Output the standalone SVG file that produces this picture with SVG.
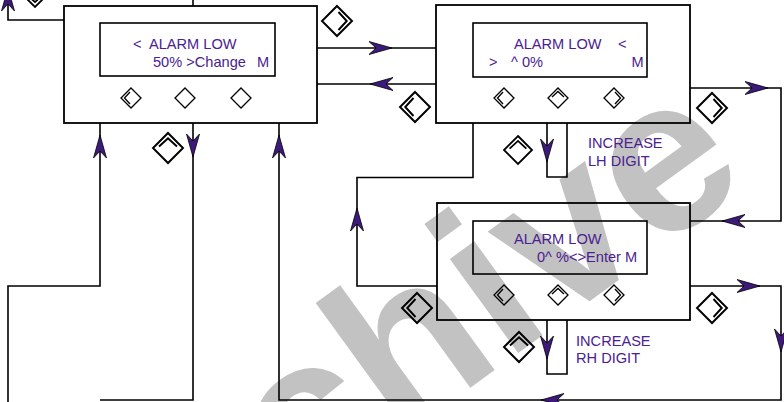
<svg xmlns="http://www.w3.org/2000/svg" xmlns:xlink="http://www.w3.org/1999/xlink" width="784" height="402" viewBox="0 0 784 402">
<style>
.box{fill:none;stroke:#000;stroke-width:1.8}
.lcd{fill:none;stroke:#000;stroke-width:1.6}
.ln{fill:none;stroke:#000;stroke-width:1.6}
.t{font-family:"Liberation Sans",Arial,sans-serif;font-size:14.6px;fill:#4a2190}
.dm{fill:none;stroke:#000;stroke-width:1.3}
.wm{font-family:"Liberation Sans",Arial,sans-serif;font-weight:bold;font-size:220px;fill:#c2c2c2}
</style>
<defs>
<path id="ah" d="M0,0 L-23,-6.5 L-16,0 L-23,6.5 Z" fill="#3d1a7a" stroke="#000" stroke-width="0.8"/>
<path id="d0" class="dm" d="M0,-10 L10,0 L0,10 L-10,0 Z"/>
<g id="dL"><use xlink:href="#d0"/><path class="dm" d="M-1,-6 L-6.5,0 L-1,6"/></g>
<g id="dT"><use xlink:href="#d0"/><path class="dm" d="M-6,-1 L0,-6.5 L6,-1"/></g>
<g id="dR"><use xlink:href="#d0"/><path class="dm" d="M1,-6 L6.5,0 L1,6"/></g>
<g id="dB"><use xlink:href="#d0"/><path class="dm" d="M-6,1 L0,6.5 L6,1"/></g>
</defs>

<text class="wm" transform="translate(298,513) rotate(-36)">chive</text>

<g id="connectors">
<path class="ln" d="M64,20 H8 V0"/>
<path class="ln" d="M193,6 V0"/>
<path class="ln" d="M317,48 H436"/>
<path class="ln" d="M436,84 H317"/>
<path class="ln" d="M100,123 V286 H8 V402"/>
<path class="ln" d="M193,123 V400 H100"/>
<path class="ln" d="M279,123 V400 H781 V286 H690"/>
<path class="ln" d="M690,88 H781 V221 H690"/>
<path class="ln" d="M437,286 H357 V177.5 H473 V123"/>
<path class="ln" d="M547,123 V177 H567 V123"/>
<path class="ln" d="M547,320 V374 H567 V320"/>
<use xlink:href="#ah" transform="translate(8,-12) rotate(-90)"/>
<use xlink:href="#ah" transform="translate(392,48)"/>
<use xlink:href="#ah" transform="translate(370,84) rotate(180)"/>
<use xlink:href="#ah" transform="translate(100,135) rotate(-90)"/>
<use xlink:href="#ah" transform="translate(193,157) rotate(90)"/>
<use xlink:href="#ah" transform="translate(279,135) rotate(-90)"/>
<use xlink:href="#ah" transform="translate(541,400) rotate(180)"/>
<use xlink:href="#ah" transform="translate(781,352) rotate(90)"/>
<use xlink:href="#ah" transform="translate(760,286)"/>
<use xlink:href="#ah" transform="translate(768,88)"/>
<use xlink:href="#ah" transform="translate(722,221) rotate(180)"/>
<use xlink:href="#ah" transform="translate(357,208) rotate(-90)"/>
<use xlink:href="#ah" transform="translate(547,162) rotate(90)"/>
<use xlink:href="#ah" transform="translate(547,359) rotate(90)"/>
</g>

<g id="keys">
<use xlink:href="#dB" transform="translate(35,-7) scale(1.4)"/>
<use xlink:href="#dR" transform="translate(337,21) scale(1.5)"/>
<use xlink:href="#dL" transform="translate(415,107) scale(1.5)"/>
<use xlink:href="#dR" transform="translate(712,108) scale(1.5)"/>
<use xlink:href="#dT" transform="translate(168,148) scale(1.5)"/>
<use xlink:href="#dT" transform="translate(518,150) scale(1.4)"/>
<use xlink:href="#dL" transform="translate(417,308) scale(1.5)"/>
<use xlink:href="#dR" transform="translate(712,308) scale(1.5)"/>
<use xlink:href="#dT" transform="translate(519,347) scale(1.5)"/>
</g>

<g id="screen1">
<rect class="box" x="64" y="6" width="253" height="117"/>
<rect class="lcd" x="100" y="23" width="175" height="53"/>
<text class="t" x="133" y="48.5">&lt;</text>
<text class="t" x="149" y="48.5">ALARM LOW</text>
<text class="t" x="153" y="66.7">50% &gt;Change</text>
<text class="t" x="257" y="66.7">M</text>
<use xlink:href="#dL" transform="translate(131,98)"/>
<use xlink:href="#d0" transform="translate(185,98)"/>
<use xlink:href="#d0" transform="translate(241,98)"/>
</g>

<g id="screen2">
<rect class="box" x="436" y="5" width="254" height="118"/>
<rect class="lcd" x="473" y="23" width="174" height="54"/>
<text class="t" x="514" y="49">ALARM LOW</text>
<text class="t" x="618" y="49">&lt;</text>
<text class="t" x="489" y="67">&gt;</text>
<text class="t" x="511" y="67">^ 0%</text>
<text class="t" x="631.5" y="67">M</text>
<use xlink:href="#dL" transform="translate(504,98)"/>
<use xlink:href="#dT" transform="translate(558,98)"/>
<use xlink:href="#dR" transform="translate(614,98)"/>
</g>

<g id="screen3">
<rect class="box" x="437" y="203" width="253" height="117"/>
<rect class="lcd" x="473" y="221" width="174" height="53"/>
<text class="t" x="514" y="244">ALARM LOW</text>
<text class="t" x="537" y="261.5">0^ %&lt;&gt;Enter M</text>
<use xlink:href="#dL" transform="translate(504,295)"/>
<use xlink:href="#dT" transform="translate(558,295)"/>
<use xlink:href="#dR" transform="translate(614,295)"/>
</g>

<g id="label-lh">
<text class="t" x="588" y="147.5">INCREASE</text>
<text class="t" x="588" y="165.5">LH DIGIT</text>
</g>
<g id="label-rh">
<text class="t" x="576" y="345.5">INCREASE</text>
<text class="t" x="576" y="363.3">RH DIGIT</text>
</g>
</svg>
